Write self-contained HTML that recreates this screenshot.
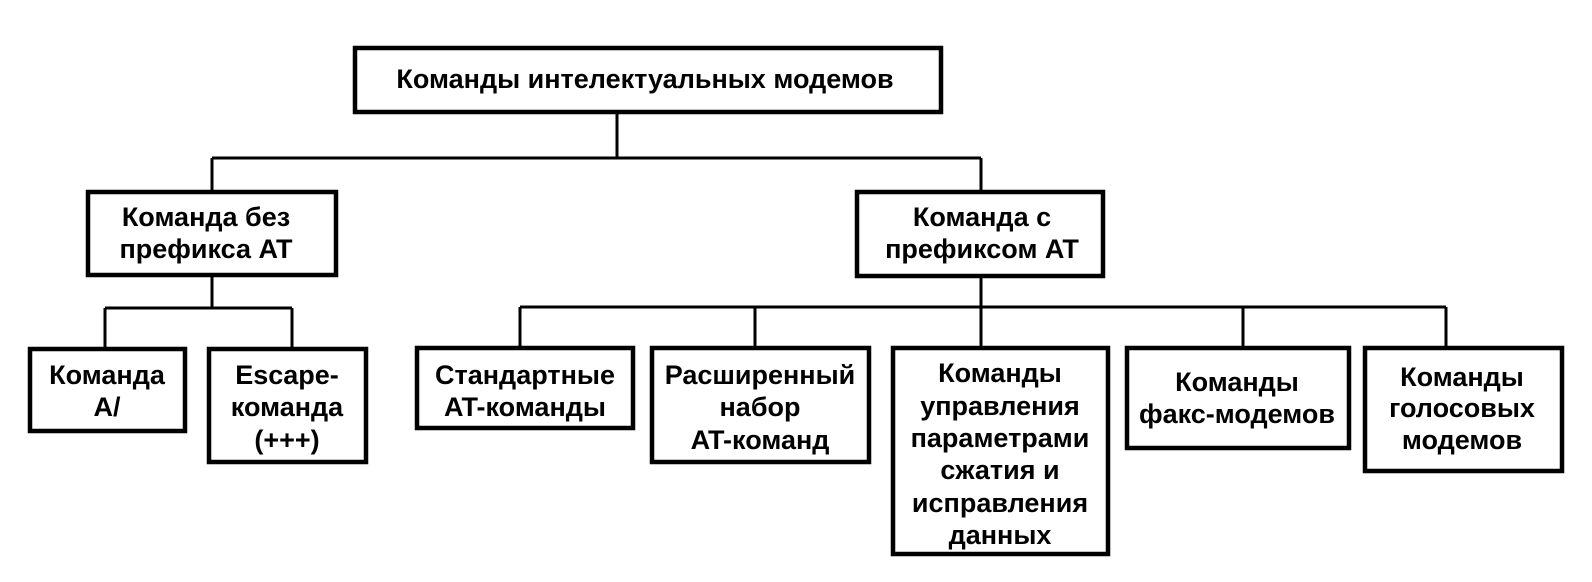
<!DOCTYPE html>
<html><head><meta charset="utf-8"><style>
html,body{margin:0;padding:0;background:#fff;}
svg{display:block}
text{font-family:"Liberation Sans",sans-serif;font-weight:bold;font-size:27px;fill:#000;text-anchor:middle}
</style></head><body>
<svg width="1592" height="582" viewBox="0 0 1592 582" xmlns="http://www.w3.org/2000/svg">
<g fill="none" stroke="#000" stroke-width="3">
<path d="M617 112V158M212 158H981M212 158V192M981 158V192"/>
<path d="M212 275V308M105 308H292M105 308V348M292 308V348"/>
<path d="M981 276V307M520 307H1446M520 307V347M755 307V347M981 307V347M1243 307V347M1446 307V347"/>
</g>
<g fill="#fff" stroke="#000" stroke-width="4.5">
<rect x="355" y="48" width="586" height="64"/>
<rect x="88" y="192" width="248" height="83"/>
<rect x="857" y="192" width="246" height="84"/>
<rect x="30" y="349" width="155" height="82"/>
<rect x="209" y="349" width="157" height="113"/>
<rect x="417" y="348" width="216" height="80"/>
<rect x="652" y="348" width="217" height="114"/>
<rect x="893" y="348" width="215" height="206"/>
<rect x="1127" y="348" width="222" height="100"/>
<rect x="1365" y="348" width="197" height="123"/>
</g>
<text x="645" y="88">Команды интелектуальных модемов</text>
<text x="206" y="226">Команда без</text>
<text x="206" y="258">префикса AT</text>
<text x="982" y="226">Команда с</text>
<text x="982" y="258">префиксом AT</text>
<text x="107" y="384">Команда</text>
<text x="107" y="416">A/</text>
<text x="287" y="384">Escape-</text>
<text x="287" y="416">команда</text>
<text x="287" y="449">(+++)</text>
<text x="525" y="384">Стандартные</text>
<text x="525" y="416">AT-команды</text>
<text x="760" y="384">Расширенный</text>
<text x="760" y="416">набор</text>
<text x="760" y="449">AT-команд</text>
<text x="1000" y="382">Команды</text>
<text x="1000" y="415">управления</text>
<text x="1000" y="447">параметрами</text>
<text x="1000" y="479">сжатия и</text>
<text x="1000" y="512">исправления</text>
<text x="1000" y="544">данных</text>
<text x="1237" y="391">Команды</text>
<text x="1237" y="423">факс-модемов</text>
<text x="1462" y="386">Команды</text>
<text x="1462" y="417">голосовых</text>
<text x="1462" y="449">модемов</text>
</svg>
</body></html>
